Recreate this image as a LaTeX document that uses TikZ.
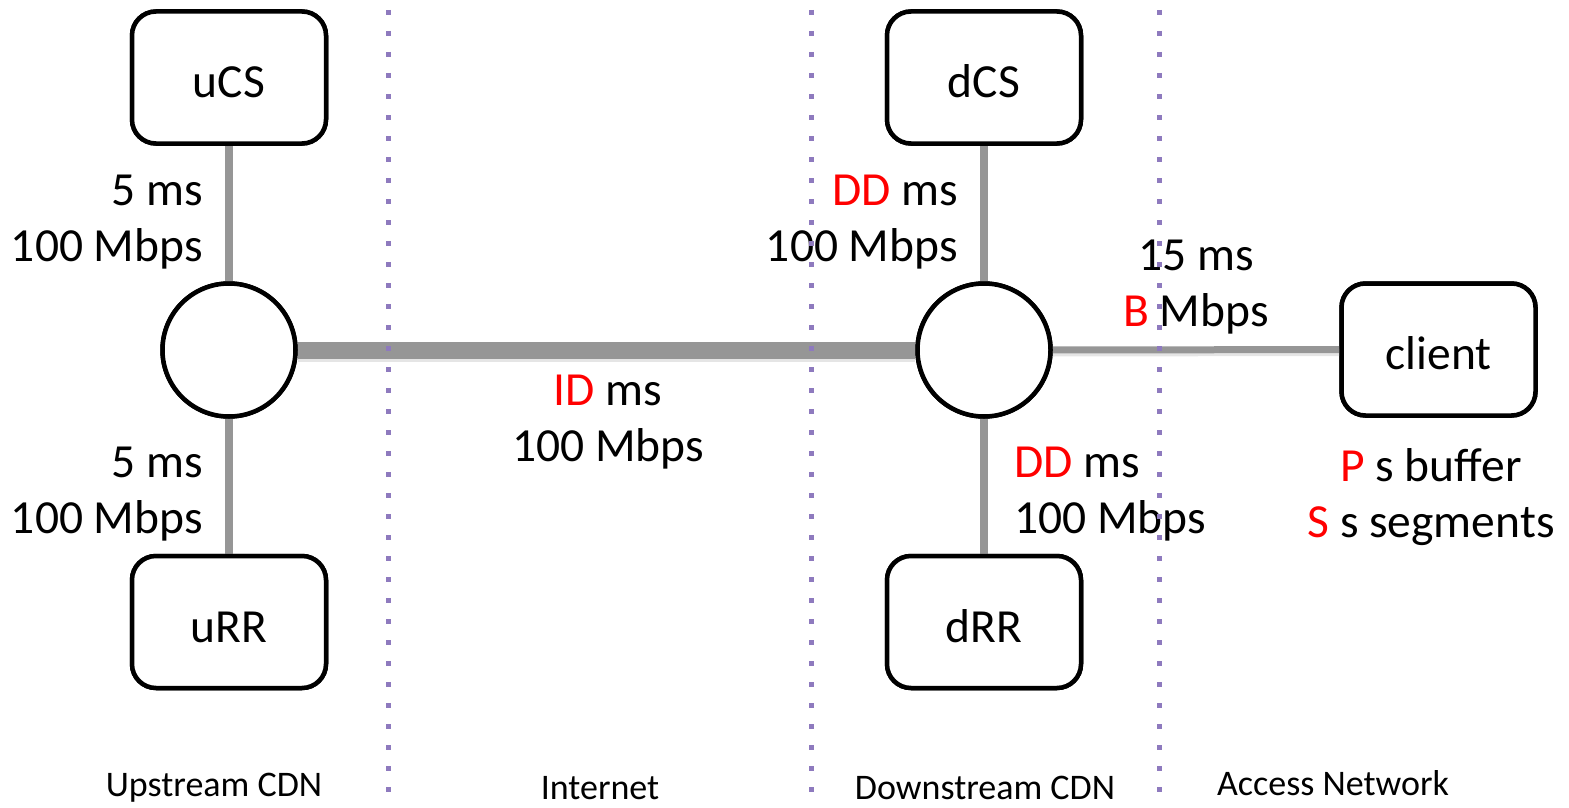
\documentclass[tikz,border=0pt]{standalone}
\usepackage{fontspec}
\setmainfont{Carlito}
\definecolor{dotpurple}{RGB}{142,122,190}
\definecolor{linkgray}{RGB}{150,150,150}
\definecolor{hl}{RGB}{255,0,0}
\tikzset{
  box/.style={draw=black, line width=4.5pt, rounded corners=24pt, fill=white,
    minimum width=194pt, minimum height=132pt, inner sep=0pt,
    text height=40pt, text depth=0pt,
    font=\fontsize{47.5}{56}\selectfont},
  hub/.style={draw=black, line width=4.5pt, circle, fill=white,
    minimum size=133pt, inner sep=0pt},
  lbl/.style={inner sep=0pt, font=\fontsize{47.5}{56}\selectfont},
  region/.style={inner sep=0pt, font=\fontsize{36}{42}\selectfont},
  sep/.style={dotpurple, line width=5pt, dash pattern=on 5pt off 16pt},
  link/.style={linkgray},
  shadowlink/.style={black!10},
}
\begin{document}
\begin{tikzpicture}[x=1pt,y=-1pt]
\useasboundingbox (0,0) rectangle (1569,808);
% nodes
\node[box] (ucs) at (229,77.5) {uCS};
\node[box] (urr) at (229,622) {uRR};
\node[box] (dcs) at (984,77.5) {dCS};
\node[box] (drr) at (984,622) {dRR};
\node[box] (client) at (1438.5,349.5) {client};
\node[hub] (lc) at (229,350) {};
\node[hub] (rc) at (984,350) {};
% connectors
\draw[shadowlink, line width=17pt] ([yshift=-3pt]lc.east) -- ([yshift=-3pt]rc.west);
\draw[link, line width=17pt] (lc) -- (rc);
\draw[shadowlink, line width=7pt] ([yshift=-3pt]rc.east) -- ([yshift=-3pt]client.west);
\draw[link, line width=7pt] (rc) -- (client);
\draw[link, line width=8pt] (ucs) -- (lc);
\draw[link, line width=8pt] (lc) -- (urr);
\draw[link, line width=8pt] (dcs) -- (rc);
\draw[link, line width=8pt] (rc) -- (drr);
% redraw nodes on top of connectors
\node[box] at (ucs) {uCS};
\node[box] at (urr) {uRR};
\node[box] at (dcs) {dCS};
\node[box] at (drr) {dRR};
\node[box] at (client) {client};
\node[hub] at (lc) {};
\node[hub] at (rc) {};
% labels
\node[lbl, anchor=east, align=right] (l1) at (203,222) {5 ms\\100 Mbps};
\node[lbl, anchor=east, align=right] (l2) at (203,494) {5 ms\\100 Mbps};
\node[lbl, align=center] (l3) at (608,422) {\textcolor{hl}{ID} ms\\100 Mbps};
\node[lbl, anchor=east, align=right] (l4) at (958,222) {\textcolor{hl}{DD} ms\\100 Mbps};
\node[lbl, anchor=west, align=left] (l5) at (1014,494) {\textcolor{hl}{DD} ms\\100 Mbps};
\node[lbl, align=center] (l6) at (1196,287) {15 ms\\\textcolor{hl}{B} Mbps};
\node[lbl, align=center] (l7) at (1431,497) {\textcolor{hl}{P} s buffer\\\textcolor{hl}{S} s segments};
% region labels
\node[region] (r1) at (214,788) {Upstream CDN};
\node[region] (r2) at (600,788) {Internet};
\node[region] (r3) at (985,788) {Downstream CDN};
\node[region] (r4) at (1333,783) {Access Network};
% separators
\coordinate (s1t) at (388,10); \coordinate (s1b) at (388,808);
\coordinate (s2t) at (811,10); \coordinate (s2b) at (811,808);
\coordinate (s3t) at (1159,10); \coordinate (s3b) at (1159,808);
\draw[sep] (s1t) -- (s1b);
\draw[sep] (s2t) -- (s2b);
\draw[sep] (s3t) -- (s3b);
\end{tikzpicture}
\end{document}
